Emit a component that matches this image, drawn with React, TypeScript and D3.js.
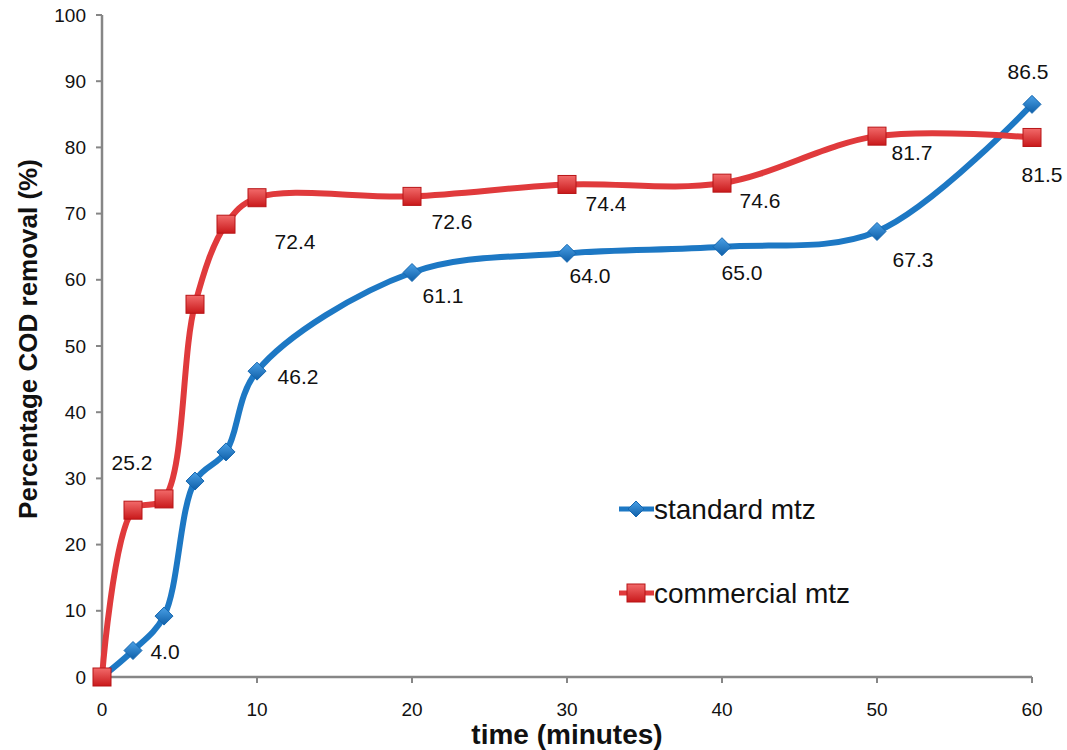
import * as d3 from 'd3';

const times = [0, 2, 4, 6, 8, 10, 20, 30, 40, 50, 60];
const standardMtz = [0, 4.0, 9.2, 29.6, 34.0, 46.2, 61.1, 64.0, 65.0, 67.3, 86.5];
const commercialMtz = [0, 25.2, 26.9, 56.3, 68.4, 72.4, 72.6, 74.4, 74.6, 81.7, 81.5];
const standardLabels = ['', '4.0', '', '', '', '46.2', '61.1', '64.0', '65.0', '67.3', '86.5'];
const commercialLabels = ['', '25.2', '', '', '', '72.4', '72.6', '74.4', '74.6', '81.7', '81.5'];
const xTicks = [0, 10, 20, 30, 40, 50, 60];
const yTicks = [0, 10, 20, 30, 40, 50, 60, 70, 80, 90, 100];

// label offsets from their point (manually placed in the original)
const standardLabelOffsets: [number, number][] = [
  [0, 0], [32, 1], [0, 0], [0, 0], [0, 0], [41, 5], [31, 23], [23, 22], [20, 26], [36, 28], [-4, -33],
];
const commercialLabelOffsets: [number, number][] = [
  [0, 0], [-1, -48], [0, 0], [0, 0], [0, 0], [38, 44], [40, 25], [39, 19], [38, 17], [35, 16], [10, 37],
];

const W = 1067;
const H = 750;
const FONT = '"Liberation Sans", Arial, sans-serif';
const BLUE = '#1d78c4';
const RED = '#e03a3c';
const AXIS = '#868686';

export default function App() {
  const x = d3.scaleLinear().domain([0, 60]).range([102, 1032]);
  const y = d3.scaleLinear().domain([0, 100]).range([677, 15]);

  const line = d3
    .line<number>()
    .x((_, i) => x(times[i]))
    .y((d) => y(d))
    .curve(d3.curveCatmullRom.alpha(0.5));

  const diamond = (cx: number, cy: number, r: number) => `M${cx},${cy - r}L${cx + r},${cy}L${cx},${cy + r}L${cx - r},${cy}Z`;

  const labels = (vals: number[], texts: string[], offs: [number, number][], key: string) =>
    vals.map((v, i) =>
      texts[i] ? (
        <text
          key={key + i}
          x={x(times[i]) + offs[i][0]}
          y={y(v) + offs[i][1]}
          textAnchor="middle"
          dominantBaseline="central"
          fontSize={21}
          fill="#111"
        >
          {texts[i]}
        </text>
      ) : null
    );

  return (
    <svg width={W} height={H} style={{ position: 'absolute', left: 0, top: 0, background: '#fff' }} fontFamily={FONT}>
      <defs>
        <linearGradient id="sq" x1="0" y1="0" x2="0" y2="1">
          <stop offset="0%" stopColor="#f26a6a" />
          <stop offset="100%" stopColor="#c9191b" />
        </linearGradient>
        <linearGradient id="dm" x1="0" y1="0" x2="0" y2="1">
          <stop offset="0%" stopColor="#4aa0e6" />
          <stop offset="100%" stopColor="#0f5fa8" />
        </linearGradient>
      </defs>
      <rect width={W} height={H} fill="#fff" />

      {/* axes */}
      <line x1={x(0)} x2={x(0)} y1={y(100)} y2={y(0)} stroke={AXIS} strokeWidth={2.5} />
      <line x1={x(0)} x2={x(60)} y1={y(0)} y2={y(0)} stroke={AXIS} strokeWidth={2.5} />
      {yTicks.map((t) => (
        <g key={'y' + t}>
          <line x1={x(0) - 6} x2={x(0)} y1={y(t)} y2={y(t)} stroke={AXIS} strokeWidth={2} />
          <text x={x(0) - 16} y={y(t)} dominantBaseline="central" textAnchor="end" fontSize={19} fill="#111">
            {t}
          </text>
        </g>
      ))}
      {xTicks.map((t) => (
        <g key={'x' + t}>
          <line x1={x(t)} x2={x(t)} y1={y(0)} y2={y(0) + 6} stroke={AXIS} strokeWidth={2} />
          <text x={x(t)} y={y(0) + 39} textAnchor="middle" fontSize={19} fill="#111">
            {t}
          </text>
        </g>
      ))}

      <text x={567} y={744} textAnchor="middle" fontSize={28} fontWeight="bold" fill="#111">
        time (minutes)
      </text>
      <text transform="translate(37,339) rotate(-90)" textAnchor="middle" fontSize={26} fontWeight="bold" fill="#111">
        Percentage COD removal (%)
      </text>

      {/* lines */}
      <path d={line(standardMtz) ?? ''} fill="none" stroke={BLUE} strokeWidth={6} strokeLinejoin="round" />
      <path d={line(commercialMtz) ?? ''} fill="none" stroke={RED} strokeWidth={6} strokeLinejoin="round" />

      {/* markers */}
      {standardMtz.map((v, i) => (
        <path key={'sd' + i} d={diamond(x(times[i]), y(v), 9)} fill="url(#dm)" stroke="#1567b0" strokeWidth={1} />
      ))}
      {commercialMtz.map((v, i) => (
        <rect key={'cs' + i} x={x(times[i]) - 9} y={y(v) - 9} width={18} height={18} fill="url(#sq)" stroke="#b81517" strokeWidth={1} />
      ))}

      {/* data labels */}
      {labels(standardMtz, standardLabels, standardLabelOffsets, 'sl')}
      {labels(commercialMtz, commercialLabels, commercialLabelOffsets, 'cl')}

      {/* legend */}
      <g>
        <line x1={619} x2={654} y1={509} y2={509} stroke={BLUE} strokeWidth={5} />
        <path d={diamond(636, 509, 8)} fill="url(#dm)" stroke="#1567b0" strokeWidth={1} />
        <text x={654} y={509} dominantBaseline="central" fontSize={28} fill="#111">
          standard mtz
        </text>
        <line x1={619} x2={654} y1={593} y2={593} stroke={RED} strokeWidth={5} />
        <rect x={627} y={584} width={18} height={18} fill="url(#sq)" stroke="#b81517" strokeWidth={1} />
        <text x={654} y={593} dominantBaseline="central" fontSize={28} fill="#111">
          commercial mtz
        </text>
      </g>
    </svg>
  );
}
